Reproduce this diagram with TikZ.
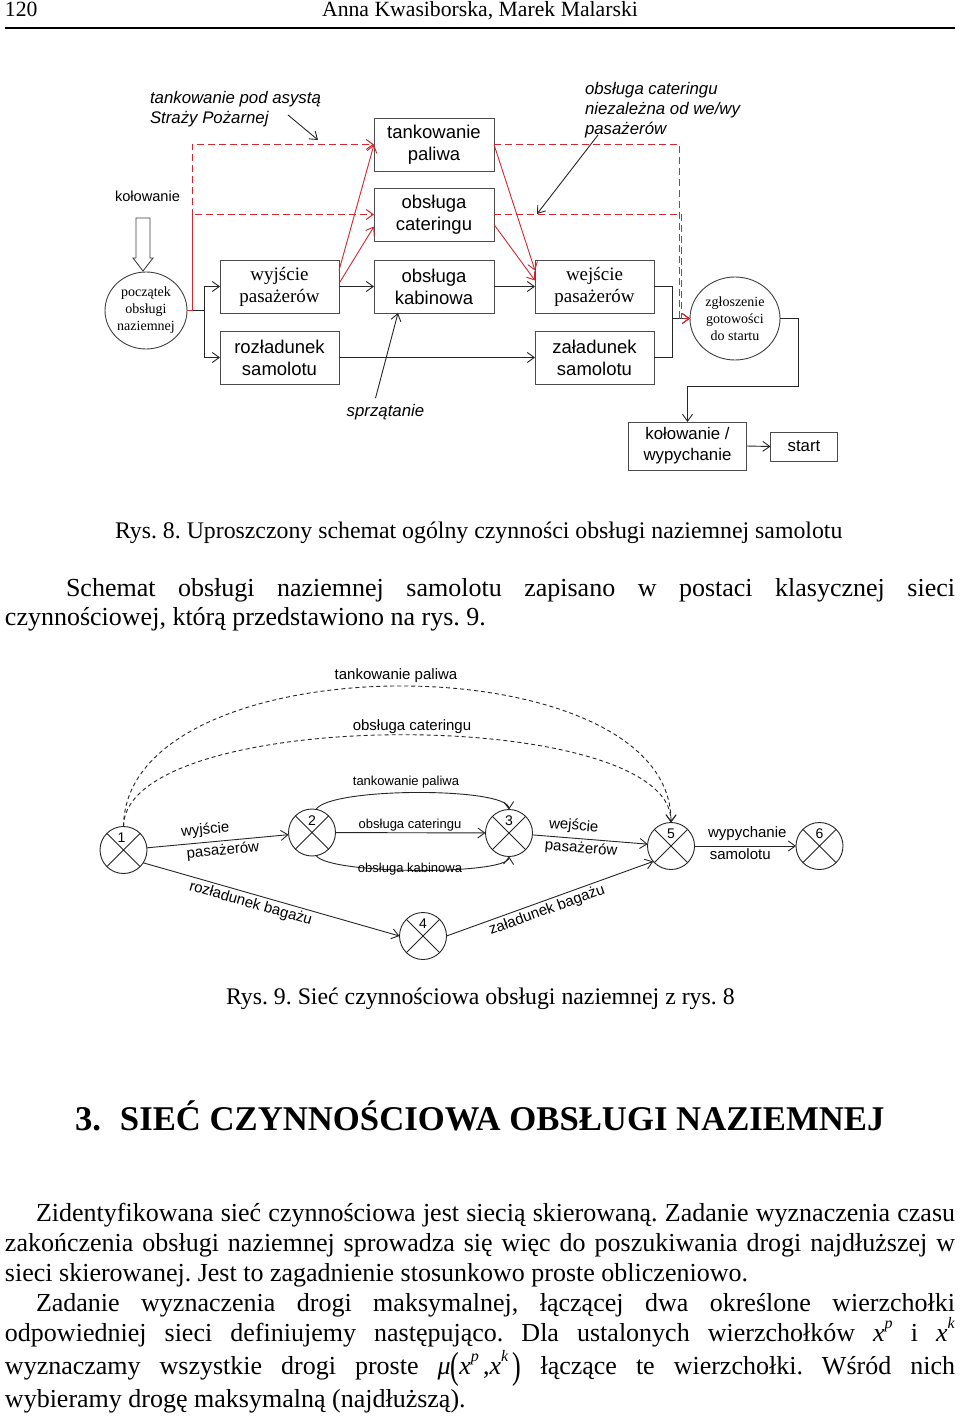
\documentclass[tikz,border=0pt]{standalone}
\usepackage{fontspec}
\setmainfont{Liberation Serif}
\newfontfamily\arial{Liberation Sans}
\usetikzlibrary{arrows.meta,calc,shapes.geometric}
\definecolor{rd}{RGB}{210,40,50}
\frenchspacing
\newcommand\myboxf{\arial\fontsize{18.5}{22}\selectfont}
\newcommand\mysmbf{\arial\fontsize{16.8}{21}\selectfont}
\newcommand\myitf{\arial\itshape\fontsize{16.8}{20}\selectfont}
\newcommand\mytmf{\fontsize{19}{22}\selectfont}
\newcommand\mynetf{\arial\fontsize{15}{17}\selectfont}
\newcommand\mynets{\arial\fontsize{13}{15}\selectfont}
\newcommand\mybodyf{\fontsize{26}{30}\selectfont}
\newcommand\mycapf{\fontsize{23.8}{28}\selectfont}
\newcommand\mysup[1]{\raisebox{0.5em}{\fontsize{16}{16}\selectfont\textit{#1}}}
\newcommand\mybigp[1]{\raisebox{-0.18em}{\scalebox{1}[1.45]{#1}}}
\begin{document}
\begin{tikzpicture}[x=1pt,y=-1pt,
  every node/.style={inner sep=0pt, outer sep=0pt},
  ar/.style={-{Straight Barb[length=7pt,width=10pt]}},
  conn/.style={line width=0.9pt, draw=black!85},
  rline/.style={line width=0.9pt, draw=rd},
  rdash/.style={line width=1pt, draw=rd, dash pattern=on 7pt off 4pt},
  ndash/.style={line width=0.9pt, draw=black!85, dash pattern=on 4pt off 3pt},
  box/.style={draw=black!70, line width=0.9pt, minimum width=120pt, minimum height=53pt, align=center, font=\myboxf},
  tbox/.style={box, font=\mytmf},
  ell/.style={ellipse, draw=black!75, line width=0.9pt, align=center, font=\fontsize{14}{17}\selectfont},
  nd/.style={circle, draw=black!85, line width=0.9pt, minimum size=47pt,
    path picture={\draw[line width=0.9pt, black!85]
      (path picture bounding box.north west) -- (path picture bounding box.south east)
      (path picture bounding box.north east) -- (path picture bounding box.south west);}},
  num/.style={font=\arial\fontsize{14}{16}\selectfont},
  body/.style={anchor=base west, font=\mybodyf}
]
\fill[white] (0,0) rectangle (960,1420);
\useasboundingbox (0,0) rectangle (960,1420);

% ---------- header
\node[anchor=base west, font=\fontsize{21.7}{24}\selectfont] (pnum) at (5,17) {120};
\node[anchor=base, font=\fontsize{21.7}{24}\selectfont] (auth) at (480,17) {Anna Kwasiborska, Marek Malarski};
\draw[line width=2pt] (5,28) -- (955,28);

% ---------- figure 8
\node[box] (tank) at (434,144.5) {tankowanie\\paliwa};
\node[box] (cat) at (434,214.5) {obsługa\\cateringu};
\node[box] (kab) at (434,286.5) {obsługa\\kabinowa};
\node[tbox, minimum width=119pt] (wyj) at (279.5,286.5) {wyjście\\pasażerów};
\node[box, minimum width=119pt] (roz) at (279.5,357.5) {rozładunek\\samolotu};
\node[tbox, minimum width=119pt] (wej) at (594.5,286.5) {wejście\\pasażerów};
\node[box, minimum width=119pt] (zal) at (594.5,357.5) {załadunek\\samolotu};
\node[ell, minimum width=82pt, minimum height=77pt] (pocz) at (146,310.5) {początek\\obsługi\\naziemnej};
\node[ell, minimum width=90pt, minimum height=83pt] (zgl) at (735,318.5) {zgłoszenie\\gotowości\\do startu};
\node[box, minimum width=118pt, minimum height=48pt, font=\mysmbf] (kolw) at (687.5,446) {kołowanie /\\wypychanie};
\node[box, minimum width=67pt, minimum height=29pt, font=\mysmbf] (start) at (804,446.5) {start};

\node[font=\arial\fontsize{14.6}{17}\selectfont] (kol) at (147.5,196) {kołowanie};
\draw[black!75, line width=0.9pt, fill=white] (136,218) -- (150,218) -- (150,258) -- (153,258) -- (143,271) -- (133,258) -- (136,258) -- cycle;

\node[anchor=north west, align=left, font=\myitf] (fire) at (150,91) {tankowanie pod asystą\\Straży Pożarnej};
\coordinate (f1) at (288,115);
\coordinate (f2) at (318,140);
\draw[conn, ar] (f1) -- (f2);

\node[anchor=north west, align=left, font=\myitf] (catl) at (585,82) {obsługa cateringu\\niezależna od we/wy\\pasażerów};
\coordinate (c1) at (598,135);
\coordinate (c2) at (537,214);
\draw[conn, ar] (c1) -- (c2);

\node[font=\myitf] (spr) at (385.5,412) {sprzątanie};
\draw[conn, ar] ([xshift=-10pt, yshift=6pt]spr.north) -- ([xshift=-36pt]kab.south);

% black connectors
\coordinate (bj) at (204,310.5);
\draw[conn] (pocz.east) -- (bj);
\draw[conn, ar] (bj) |- (wyj.west);
\draw[conn, ar] (bj) |- (roz.west);
\draw[conn, ar] (wyj.east) -- (kab.west);
\draw[conn, ar] (kab.east) -- (wej.west);
\draw[conn, ar] (roz.east) -- (zal.west);
\coordinate (bj2) at (672,318.5);
\draw[conn] (wej.east) -- ++(18,0) |- (zal.east);
\draw[conn, ar] (bj2) -- (zgl.west);
\draw[conn, ar] (zgl.east) -- ++(18,0) -- ++(0,67.5) -| (kolw.north);
\draw[conn, ar] (kolw.east) -- (start.west);

% red connectors
\coordinate (rv) at (192,310.5);
\draw[rdash, ar] (pocz.east) -- (rv) |- (tank.west);
\draw[rdash, ar] (rv) |- (cat.west);
\draw[rline, ar] ([yshift=16pt]wyj.east) -- (tank.west);
\draw[rline, ar] ([yshift=3pt]wyj.east) -- ([yshift=-12pt]cat.west);
\draw[rline, ar] (tank.east) -- ([yshift=16pt]wej.west);
\draw[rline, ar] ([yshift=-10pt]cat.east) -- ([yshift=6pt]wej.west);
\coordinate (rv2) at (679,318.5);
\draw[rdash] (cat.east) -| ([xshift=2pt]rv2);
\draw[rdash, ar] (tank.east) -| (rv2) -- (zgl.west);

% caption 8 and paragraph
\node[anchor=base west, font=\mycapf] (cap8) at (115,538) {Rys. 8. Uproszczony schemat ogólny czynności obsługi naziemnej samolotu};
\node[body] (pa1) at (66,596) {\makebox[889pt][s]{Schemat obsługi naziemnej samolotu zapisano w postaci klasycznej sieci}};
\node[body] (pa2) at (5,625) {czynnościowej, którą przedstawiono na rys. 9.};

% ---------- figure 9
\node[nd] (n1) at (123.5,850) {};
\node[nd] (n2) at (312,832.5) {};
\node[nd] (n3) at (509,833) {};
\node[nd] (n4) at (423,936) {};
\node[nd] (n5) at (671,846) {};
\node[nd] (n6) at (819.5,846) {};
\node[num] (l1) at ([xshift=-2pt,yshift=12pt]n1.center) {1};
\node[num] (l2) at ([yshift=12pt]n2.center) {2};
\node[num] (l3) at ([yshift=12pt]n3.center) {3};
\node[num] (l4) at ([yshift=12pt]n4.center) {4};
\node[num] (l5) at ([yshift=12pt]n5.center) {5};
\node[num] (l6) at ([yshift=12pt]n6.center) {6};

\draw[ndash, ar] (n1.north) .. controls (125,640) and (672,640) .. (n5.north);
\draw[ndash, ar] (n1.north) .. controls (125,705) and (672,705) .. (n5.north);
\node[font=\mynetf] (tl1) at (396,676) {tankowanie paliwa};
\node[font=\mynetf] (cl1) at (412,727) {obsługa cateringu};

\draw[conn, ar] (n1) -- (n2)
  node[sloped, pos=0.42, above=5pt, font=\mynetf] (e12a) {wyjście}
  node[sloped, pos=0.53, below=3pt, font=\mynetf] (e12b) {pasażerów};
\draw[conn, ar] (n2) -- (n3);
\node[anchor=base, font=\mynets] (e23) at (410,828) {obsługa cateringu};
\draw[conn, ar] (n2.80) .. controls (330,787) and (508,787) .. (n3.north);
\node[anchor=base, font=\mynets] (e23a) at (406,785) {tankowanie paliwa};
\draw[conn, ar] (n2.-80) .. controls (330,875) and (508,875) .. (n3.south);
\node[anchor=base, font=\mynets] (e23b) at (410,872) {obsługa kabinowa};
\draw[conn, ar] (n3) -- (n5)
  node[sloped, pos=0.35, above=5pt, font=\mynetf] (e35a) {wejście}
  node[sloped, pos=0.43, below=3pt, font=\mynetf] (e35b) {pasażerów};
\draw[conn, ar] (n5) -- (n6)
  node[pos=0.52, above=5pt, font=\mynetf] (e56a) {wypychanie}
  node[pos=0.45, below=3pt, font=\mynetf] (e56b) {samolotu};
\draw[conn, ar] (n1.-33) -- (n4.west)
  node[sloped, pos=0.43, below=3pt, font=\mynetf] (e14) {rozładunek bagażu};
\draw[conn, ar] (n4.east) -- (n5.221)
  node[sloped, pos=0.47, below=3pt, font=\mynetf] (e45) {załadunek bagażu};

\node[anchor=base west, font=\mycapf] (cap9) at (226,1004) {Rys. 9. Sieć czynnościowa obsługi naziemnej z rys. 8};

% ---------- section
\node[anchor=base west, font=\bfseries\fontsize{34.7}{40}\selectfont] (h3) at (75,1130) {\makebox[45pt][l]{3.}SIEĆ CZYNNOŚCIOWA OBSŁUGI NAZIEMNEJ};

\node[body] (b1) at (36,1221) {\makebox[919pt][s]{Zidentyfikowana sieć czynnościowa jest siecią skierowaną. Zadanie wyznaczenia czasu}};
\node[body] (b2) at (5,1251) {\makebox[950pt][s]{zakończenia obsługi naziemnej sprowadza się więc do poszukiwania drogi najdłuższej w}};
\node[body] (b3) at (5,1281) {sieci skierowanej. Jest to zagadnienie stosunkowo proste obliczeniowo.};
\node[body] (b4) at (36,1311) {\makebox[919pt][s]{Zadanie wyznaczenia drogi maksymalnej, łączącej dwa określone wierzchołki}};
\node[body] (b5) at (5,1341) {\makebox[950pt][s]{odpowiedniej sieci definiujemy następująco. Dla ustalonych wierzchołków \mbox{\textit{x}\mysup{p}} i \mbox{\textit{x}\mysup{k}}}};
\node[body] (b6) at (5,1374) {\makebox[950pt][s]{wyznaczamy wszystkie drogi proste \mbox{\textit{μ}\mybigp{(}\textit{x}\mysup{p}\,,\textit{x}\mysup{k}\,\mybigp{)}} łączące te wierzchołki. Wśród nich}};
\node[body] (b7) at (5,1407) {wybieramy drogę maksymalną (najdłuższą).};
\end{tikzpicture}
\end{document}
